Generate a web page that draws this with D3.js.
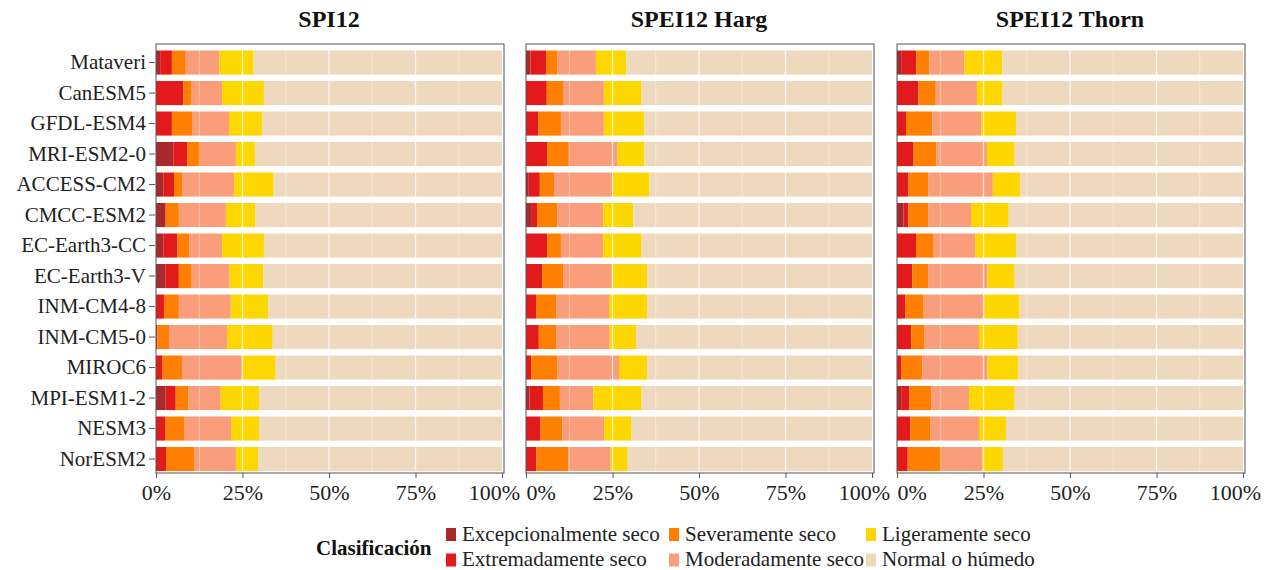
<!DOCTYPE html>
<html><head><meta charset="utf-8">
<script src="https://cdn.jsdelivr.net/npm/d3@7"></script>
<style>body{margin:0;background:#fff}svg{display:block}text{font-family:"Liberation Serif","Times New Roman",serif}</style>
</head><body><svg id="c" width="1272" height="570"></svg>
<script>
const models = ["Mataveri","CanESM5","GFDL-ESM4","MRI-ESM2-0","ACCESS-CM2","CMCC-ESM2","EC-Earth3-CC","EC-Earth3-V","INM-CM4-8","INM-CM5-0","MIROC6","MPI-ESM1-2","NESM3","NorESM2"];
const panels = ["SPI12","SPEI12 Harg","SPEI12 Thorn"];
const classes = ["Excepcionalmente seco","Extremadamente seco","Severamente seco","Moderadamente seco","Ligeramente seco","Normal o húmedo"];
const colors = ["#A8292B","#E31A1C","#FF8000","#F99D7B","#FFD700","#EED9BF"];
const xTicks = [0,0.25,0.5,0.75,1];
const xTickLabels = ["0%","25%","50%","75%","100%"];
// percentages per model: [excepcional, extremo, severo, moderado, ligero] ; normal = remainder
const spi12 = [
 [1.2,3.4,4.0,9.7,9.9],[0,7.9,2.4,8.8,12.1],[0,4.6,6.0,10.5,9.7],[5.0,4.0,3.7,10.4,5.5],
 [2.1,3.1,2.5,14.9,11.4],[2.8,0,3.8,13.6,8.5],[2.1,4.1,3.4,9.5,12.1],[2.8,3.8,3.7,11.0,9.7],
 [0,2.3,4.3,15.0,10.8],[0,0.4,3.35,16.8,13.2],[0,1.9,5.6,17.3,9.8],[2.8,2.9,3.7,9.3,11.1],
 [0,2.6,5.7,13.4,8.1],[0,2.9,8.1,12.1,6.5]];
const speiHarg = [
 [1.3,4.5,3.2,11.2,8.8],[0,6.0,4.7,11.8,10.9],[0,3.5,6.6,12.4,11.7],[0,6.1,6.3,14.1,7.7],
 [0.8,3.2,4.1,16.9,10.7],[1.7,1.5,5.8,13.3,8.7],[0,6.1,4.0,12.2,11.1],[0,4.65,6.1,14.05,10.2],
 [0,2.9,5.8,15.3,11.0],[0,3.7,5.0,15.5,7.6],[0,1.5,7.5,17.9,8.1],[1.0,3.9,4.9,9.7,13.9],
 [0,4.2,6.3,12.1,7.9],[0,3.0,9.2,12.3,4.9]];
const speiThorn = [
 [1.2,4.4,3.8,10.1,10.9],[0,6.2,5.0,11.9,7.4],[0,2.6,7.6,14.1,10.1],[0,4.8,6.6,14.6,8.0],
 [0,3.3,5.7,18.7,8.0],[1.9,1.4,5.7,12.4,10.9],[0,5.5,4.9,12.2,11.8],[0,4.4,4.6,17.2,7.8],
 [0,2.4,5.3,17.6,10.1],[0,4.1,3.9,15.7,11.2],[0,1.2,6.1,18.9,8.8],[1.2,2.4,6.3,10.9,13.2],
 [0,3.9,5.8,14.0,7.8],[0,3.1,9.7,11.9,5.9]];
const panelData = [spi12, speiHarg, speiThorn];

const svg = d3.select("#c");
const panelX0 = [156,526,897], pw = 346, pTop = 44, pBottom = 473;
const y = d3.scaleBand().domain(models).range([47.3,474.3]).paddingInner(0.21).paddingOuter(0.105);
const color = d3.scaleOrdinal().domain(classes).range(colors);

panels.forEach((name,pi)=>{
  const x0 = panelX0[pi];
  const x = d3.scaleLinear().domain([0,1]).range([x0,x0+pw]);
  const g = svg.append("g");
  g.append("rect").attr("x",x0).attr("y",pTop).attr("width",pw+2).attr("height",pBottom-pTop).attr("fill","#fff");
  const rows = models.map((m,i)=>{
    const v = panelData[pi][i].slice();
    v.push(100 - d3.sum(v));
    const o = {model:m}; classes.forEach((c,k)=>o[c]=v[k]/100); return o;
  });
  const stack = d3.stack().keys(classes)(rows);
  g.selectAll("g.s").data(stack).join("g").attr("fill",d=>color(d.key))
    .selectAll("rect").data(d=>d).join("rect")
    .attr("x",d=>x(d[0])).attr("width",d=>Math.max(0,x(d[1])-x(d[0])))
    .attr("y",d=>y(d.data.model)).attr("height",y.bandwidth());
  d3.range(1,8).forEach(k=>{
    const xv = x(k/8);
    g.append("line").attr("x1",xv).attr("x2",xv).attr("y1",pTop).attr("y2",pBottom)
      .attr("stroke","#fff").attr("stroke-opacity",k%2===0?0.75:0.45).attr("stroke-width",k%2===0?1.3:0.9);
  });
  g.append("rect").attr("x",x0).attr("y",pTop).attr("width",pw+2).attr("height",pBottom-pTop)
    .attr("fill","none").attr("stroke","#555").attr("stroke-width",1);
  const ax = d3.axisBottom(x).tickValues(xTicks).tickFormat((d,i)=>xTickLabels[i]).tickSize(5).tickPadding(6);
  const axg = svg.append("g").attr("transform",`translate(0,${pBottom})`).call(ax);
  axg.select(".domain").remove();
  axg.selectAll(".tick line").attr("stroke","#555");
  axg.selectAll("text").attr("font-size",22).attr("fill","#222").attr("dy","0.71em")
    .attr("text-anchor",d=> (d===0 && pi>0) ? "start" : "middle")
    .attr("dx",d=> d===1 ? -8 : 0);
  svg.append("text").attr("x",x0+pw/2).attr("y",27).attr("text-anchor","middle")
    .attr("font-size",24).attr("font-weight","bold").attr("fill","#111").text(name);
  if(pi===0){
    const ay = d3.axisLeft(y).tickSize(6).tickPadding(3);
    const ayg = svg.append("g").attr("transform",`translate(${x0-1},0)`).call(ay);
    ayg.select(".domain").remove();
    ayg.selectAll(".tick line").attr("stroke","#555");
    ayg.selectAll("text").attr("font-size",21).attr("fill","#222");
  }
});

const lg = svg.append("g");
lg.append("text").attr("x",316).attr("y",555).attr("font-size",21).attr("font-weight","bold").attr("fill","#111").text("Clasificación");
const colX = [446,669,866], rowY = [528,553.5];
classes.forEach((c,i)=>{
  const col = Math.floor(i/2), row = i%2;
  lg.append("rect").attr("x",colX[col]).attr("y",rowY[row]).attr("width",10).attr("height",13).attr("fill",color(c));
  lg.append("text").attr("x",colX[col]+16).attr("y",rowY[row]+12.5).attr("font-size",21).attr("fill","#222").text(c);
});
</script></body></html>
